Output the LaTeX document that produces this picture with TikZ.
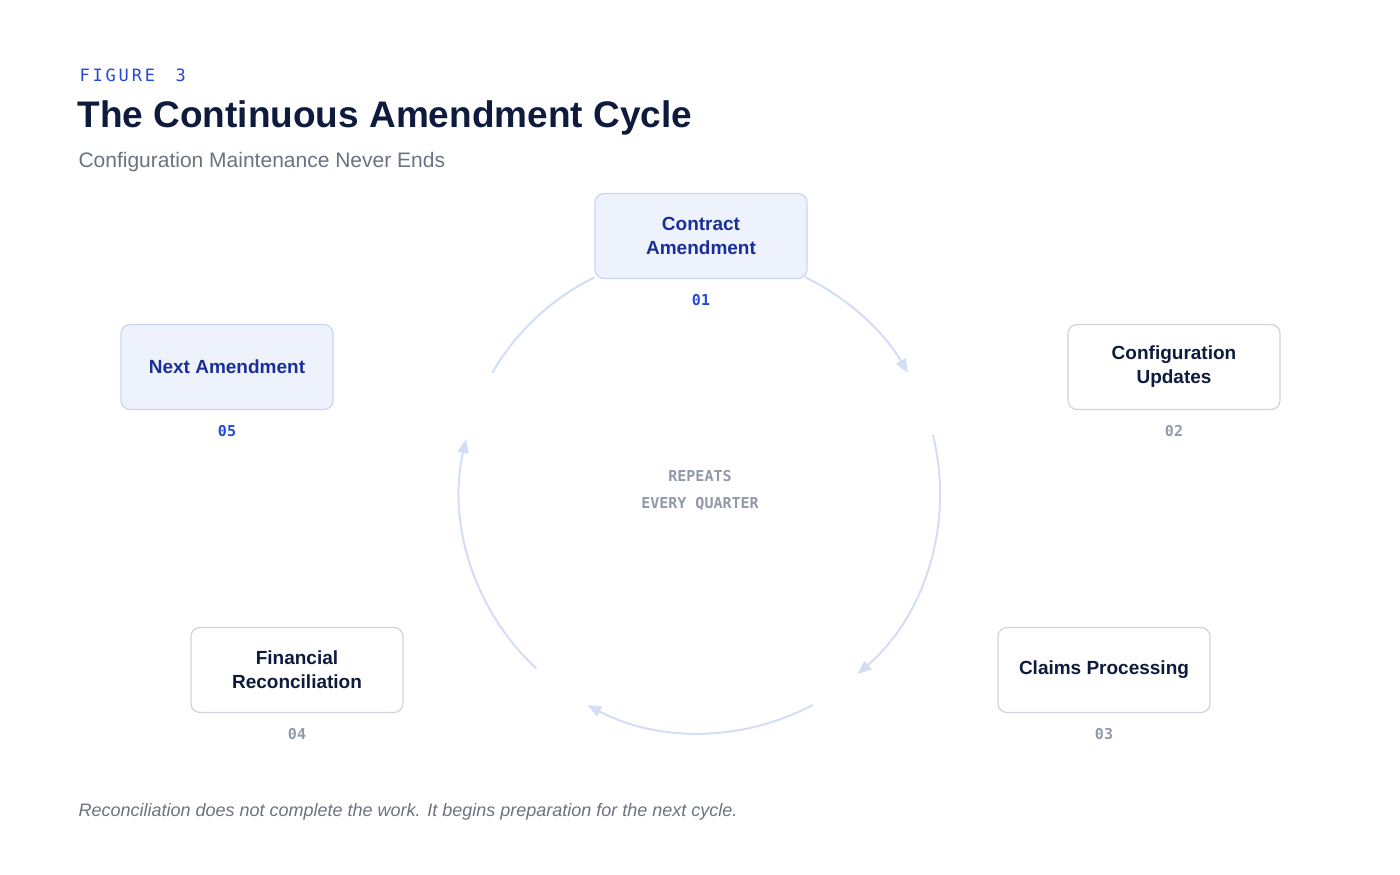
\documentclass[tikz,border=0pt]{standalone}
\usepackage{fontspec}
\setmainfont{Liberation Sans}
\setmonofont{DejaVu Sans Mono}
\usetikzlibrary{positioning, calc, arrows.meta}
\definecolor{inkdark}{HTML}{0F1B3D}
\definecolor{inkblue}{HTML}{1A2F9A}
\definecolor{figblue}{HTML}{2448D8}
\definecolor{softgray}{HTML}{6B7280}
\definecolor{numgray}{HTML}{9099A8}
\definecolor{ringblue}{HTML}{D3DDF5}
\definecolor{boxfill}{HTML}{EEF2FC}
\definecolor{boxline}{HTML}{C9D5F3}
\definecolor{plainline}{HTML}{D0D3D9}
\tikzset{
  Step/.style={draw=plainline, line width=1.2pt, rounded corners=9pt, fill=white,
    minimum width=212pt, minimum height=85pt, align=center, text=inkdark,
    font=\fontsize{19}{24}\selectfont\bfseries},
  Active/.style={Step, draw=boxline, fill=boxfill, text=inkblue},
  Num/.style={font=\fontsize{15}{18}\selectfont\ttfamily\bfseries, text=numgray},
  ActiveNum/.style={Num, text=figblue},
  Ring/.style={draw=ringblue, line width=2pt},
  Arrow/.style={Ring, -{Triangle[length=14pt, width=11pt]}}
}
\begin{document}
\begin{tikzpicture}[x=1pt, y=1pt]
  \useasboundingbox (0,0) rectangle (1400,-875);
  % heading
  \node[anchor=west, text=figblue, font=\fontsize{17}{20}\selectfont\ttfamily] (fig) at (76,-75) {F\,I\,G\,U\,R\,E\ \ 3};
  \node[anchor=west, text=inkdark, font=\fontsize{37}{44}\selectfont\bfseries] (title) at (74,-118) {The Continuous Amendment Cycle};
  \node[anchor=west, text=softgray, font=\fontsize{21}{26}\selectfont] (sub) at (75,-162) {Configuration Maintenance Never Ends};
  % ring
  \coordinate (c) at (700,-493);
  \draw[Arrow] ($(c)+(64:240)$) arc[start angle=64, end angle=30, radius=240];
  \draw[Arrow] ($(c)+(14:240)$) arc[start angle=14, end angle=-49, radius=240];
  \draw[Arrow] ($(c)+(-62:240)$) arc[start angle=-62, end angle=-118, radius=240];
  \draw[Arrow] ($(c)+(-133:240)$) arc[start angle=-133, end angle=-193, radius=240];
  \draw[Ring] ($(c)+(150:240)$) arc[start angle=150, end angle=116, radius=240];
  \node[align=center, text=numgray, font=\fontsize{15}{27}\selectfont\ttfamily\bfseries] (center) at (700,-490) {REPEATS\\EVERY QUARTER};
  % steps
  \node[Active] (contract) at (701,-236) {Contract\\Amendment};
  \node[ActiveNum, below=12pt of contract] (n1) {01};
  \node[Step] (config) at (1174,-367) {Configuration\\Updates};
  \node[Num, below=12pt of config] (n2) {02};
  \node[Step] (claims) at (1104,-670) {Claims Processing};
  \node[Num, below=12pt of claims] (n3) {03};
  \node[Step] (recon) at (297,-670) {Financial\\Reconciliation};
  \node[Num, below=12pt of recon] (n4) {04};
  \node[Active] (next) at (227,-367) {Next Amendment};
  \node[ActiveNum, below=12pt of next] (n5) {05};
  % footnote
  \node[anchor=west, text=softgray, font=\fontsize{18}{22}\selectfont\itshape] (note) at (75,-812) {Reconciliation does not complete the work. It begins preparation for the next cycle.};
\end{tikzpicture}
\end{document}
